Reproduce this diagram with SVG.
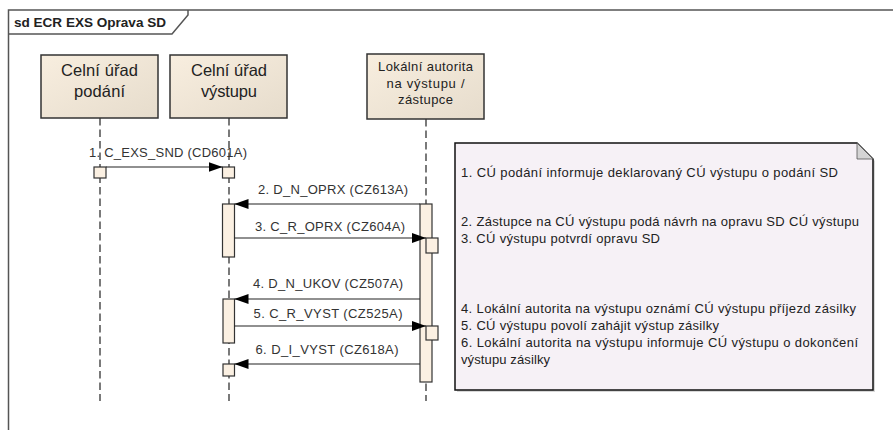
<svg xmlns="http://www.w3.org/2000/svg" width="893" height="430" viewBox="0 0 893 430">
<defs>
<linearGradient id="boxg" x1="0" y1="0" x2="1" y2="1">
<stop offset="0" stop-color="#f8eedf"/>
<stop offset="1" stop-color="#e6dccc"/>
</linearGradient>
<marker id="ah" markerWidth="14" markerHeight="10" refX="14" refY="5" orient="auto" markerUnits="userSpaceOnUse">
<path d="M0,0 L14,5 L0,10 Z" fill="#000"/>
</marker>
<style>
.frame{fill:none;stroke:#555;stroke-width:1.5}
.box{fill:url(#boxg);stroke:#333;stroke-width:1.5}
.hd{font-family:"Liberation Sans",Arial,sans-serif;font-size:16.5px;fill:#222;text-anchor:middle}
.hs{font-family:"Liberation Sans",Arial,sans-serif;font-size:13px;fill:#222;text-anchor:middle}
.life{stroke:#333;stroke-width:1.3;stroke-dasharray:7.5,4;fill:none}
.act{fill:#fbf0e2;stroke:#333;stroke-width:1.2}
.msg{stroke:#222;stroke-width:1.2;fill:none;marker-end:url(#ah)}
.lbl{font-family:"Liberation Sans",Arial,sans-serif;font-size:13px;fill:#333;text-anchor:middle}
.nt{font-family:"Liberation Sans",Arial,sans-serif;font-size:13px;fill:#222}
</style>
</defs>
<rect width="893" height="430" fill="#fff"/>
<g id="frame">
<rect class="frame" x="8.5" y="10" width="900" height="440"/>
<path class="frame" d="M8.5,34 L172,34 L188,15 L188,10"/>
<text x="14" y="27" font-family="Liberation Sans,Arial,sans-serif" font-size="12.5px" font-weight="bold" fill="#222" textLength="152" lengthAdjust="spacingAndGlyphs">sd ECR EXS Oprava SD</text>
</g>
<g id="lifeline-podani">
<line class="life" x1="100" y1="118" x2="100" y2="401"/>
<rect class="box" x="41" y="55" width="117" height="63"/>
<text class="hd" x="99.5" y="76" textLength="77">Celní úřad</text>
<text class="hd" x="99.5" y="97" textLength="51">podání</text>
</g>
<g id="lifeline-vystupu">
<line class="life" x1="229" y1="118" x2="229" y2="401"/>
<rect class="box" x="170" y="55" width="117" height="63"/>
<text class="hd" x="229" y="76" textLength="76">Celní úřad</text>
<text class="hd" x="229" y="97" textLength="56">výstupu</text>
</g>
<g id="lifeline-lokalni">
<line class="life" x1="426" y1="119" x2="426" y2="401"/>
<rect class="box" x="367" y="54" width="117" height="65"/>
<text class="hs" x="425.5" y="71" textLength="95">Lokální autorita</text>
<text class="hs" x="425.5" y="88" textLength="78">na výstupu /</text>
<text class="hs" x="425.5" y="104" textLength="55">zástupce</text>
</g>
<g id="activations">
<rect class="act" x="94" y="167" width="12" height="11"/>
<rect class="act" x="222.5" y="167" width="12" height="11"/>
<rect class="act" x="420" y="204" width="12" height="178"/>
<rect class="act" x="222.5" y="204" width="12" height="53"/>
<rect class="act" x="426" y="238" width="12" height="15"/>
<rect class="act" x="223" y="299" width="11.5" height="44"/>
<rect class="act" x="426" y="326" width="12" height="14"/>
<rect class="act" x="223" y="364" width="11.5" height="12"/>
</g>
<g id="connectors">
<line class="msg" x1="106" y1="167" x2="222.5" y2="167"/>
<line class="msg" x1="420" y1="204" x2="234.5" y2="204"/>
<line class="msg" x1="234.5" y1="238" x2="426" y2="238"/>
<line class="msg" x1="420" y1="299" x2="234.5" y2="299"/>
<line class="msg" x1="234.5" y1="326" x2="426" y2="326"/>
<line class="msg" x1="420" y1="364" x2="234.5" y2="364"/>
<text class="lbl" x="168" y="157" textLength="158">1. C_EXS_SND (CD601A)</text>
<text class="lbl" x="333" y="194" textLength="150">2. D_N_OPRX (CZ613A)</text>
<text class="lbl" x="330" y="231" textLength="150">3. C_R_OPRX (CZ604A)</text>
<text class="lbl" x="328" y="288" textLength="150">4. D_N_UKOV (CZ507A)</text>
<text class="lbl" x="328" y="318" textLength="149">5. C_R_VYST (CZ525A)</text>
<text class="lbl" x="327" y="354" textLength="143">6. D_I_VYST (CZ618A)</text>
</g>
<g id="note">
<path d="M457,145 L859,145 L875,161 L875,392 L457,392 Z" fill="#d8d8d8"/>
<path d="M455,143 L857,143 L873,159 L873,390 L455,390 Z" fill="#f6f1f6" stroke="#111" stroke-width="1.5"/>
<path d="M857,143 L857,159 L873,159 Z" fill="#d4d4d4" stroke="#555" stroke-width="0.8"/>
<text class="nt" x="461" y="177" textLength="377">1. CÚ podání informuje deklarovaný CÚ výstupu o podání SD</text>
<text class="nt" x="461" y="226" textLength="398">2. Zástupce na CÚ výstupu podá návrh na opravu SD CÚ výstupu</text>
<text class="nt" x="461" y="243" textLength="199">3. CÚ výstupu potvrdí opravu SD</text>
<text class="nt" x="461" y="313" textLength="395">4. Lokální autorita na výstupu oznámí CÚ výstupu příjezd zásilky</text>
<text class="nt" x="461" y="330" textLength="258">5. CÚ výstupu povolí zahájit výstup zásilky</text>
<text class="nt" x="461" y="347" textLength="397">6. Lokální autorita na výstupu informuje CÚ výstupu o dokončení</text>
<text class="nt" x="461" y="364" textLength="89">výstupu zásilky</text>
</g>
</svg>
